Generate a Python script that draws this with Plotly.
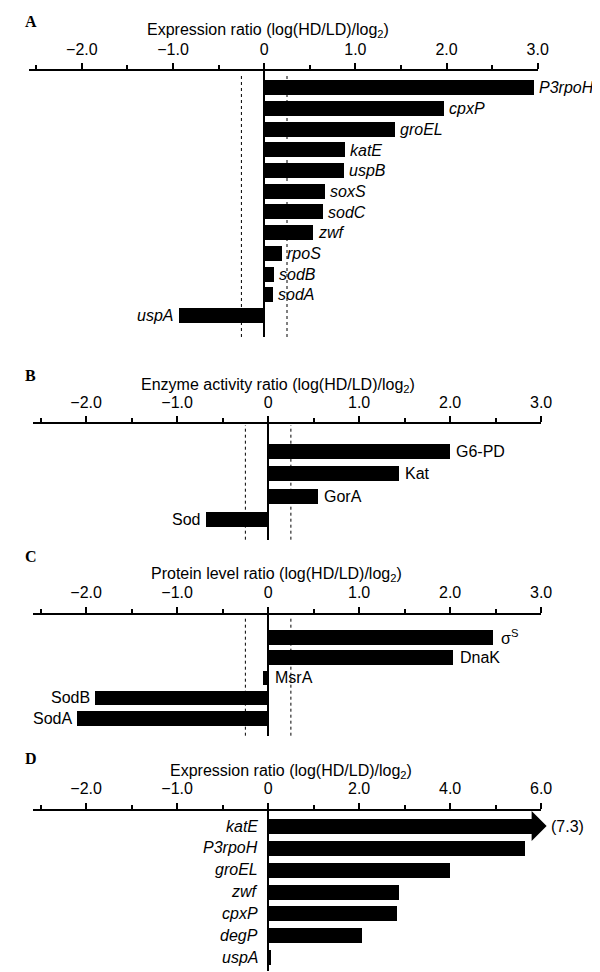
import plotly.graph_objects as go

W, H = 600, 972

# ---------------- data ----------------
A_genes = ["P3rpoH", "cpxP", "groEL", "katE", "uspB", "soxS", "sodC", "zwf",
           "rpoS", "sodB", "sodA", "uspA"]
A_values = [2.96, 1.97, 1.43, 0.89, 0.87, 0.67, 0.65, 0.54, 0.19, 0.11, 0.10, -0.94]

B_enzymes = ["G6-PD", "Kat", "GorA", "Sod"]
B_values = [2.0, 1.44, 0.55, -0.68]

C_proteins = ["σ<sup>S</sup>", "DnaK", "MsrA", "SodB", "SodA"]
C_values = [2.48, 2.03, -0.05, -1.90, -2.10]
C_label_side = ["right", "right", "right", "left", "left"]

D_genes = ["katE", "P3rpoH", "groEL", "zwf", "cpxP", "degP", "uspA"]
D_values = [7.3, 5.66, 4.0, 2.88, 2.85, 2.07, 0.08]

THRESHOLD = 0.25

TICKVALS = [-2, -1, 0, 1, 2, 3]
TICKTEXT_ABC = ["\u22122.0", "\u22121.0", "0", "1.0", "2.0", "3.0"]
TICKTEXT_D = ["\u22122.0", "\u22121.0", "0", "2.0", "4.0", "6.0"]
MINORVALS = [-2.5, -1.5, -0.5, 0.5, 1.5, 2.5]

TITLES = [
    "Expression ratio (log(HD/LD)/log<sub>2</sub>)",
    "Enzyme activity ratio (log(HD/LD)/log<sub>2</sub>)",
    "Protein level ratio (log(HD/LD)/log<sub>2</sub>)",
    "Expression ratio (log(HD/LD)/log<sub>2</sub>)",
]
LETTERS = ["A", "B", "C", "D"]

# arrow for clipped katE bar in panel D (true units)
ARROW_BASE = 5.84
ARROW_TIP = 6.12

XRANGE = [-2.58, 3.0]
FONT = "Liberation Sans"
FS = 16


def disp_d(v):
    """Panel D uses a broken scale: positive side compressed by 2."""
    return v if v < 0 else v / 2.0


# layout geometry in pixels: (x_left, x_right, top, bottom, first_center, spacing, bar_px)
GEOM = [
    (21.4, 539.6, 63.3, 329.0, 80.0, 20.7, 15.0),
    (25.8, 543.1, 416.0, 531.7, 443.0, 22.67, 15.0),
    (25.8, 543.1, 606.7, 727.7, 629.0, 20.25, 14.5),
    (25.8, 543.1, 802.7, 963.3, 818.0, 21.9, 15.0),
]
TITLE_POS = [(264.5, 22.5), (275.5, 378.0), (273.3, 566.0), (288.4, 763.0)]
LETTER_POS = [(23.5, 13.5), (23.0, 367.5), (23.5, 548.0), (23.0, 750.0)]

fig = go.Figure()
annotations = []
shapes = []

panel_names = [A_genes, B_enzymes, C_proteins, D_genes]
panel_vals = [A_values, B_values, C_values, D_values]

for p in range(4):
    names = panel_names[p]
    vals = panel_vals[p]
    xl, xr, top, bot, c0, sp, bpx = GEOM[p]
    sfx = "" if p == 0 else str(p + 1)
    xa = "x" + sfx
    ya = "y" + sfx
    idx = list(range(len(names)))

    if p == 3:
        xs = [disp_d(min(v, ARROW_BASE)) for v in vals]
    else:
        xs = list(vals)

    fig.add_trace(go.Bar(
        x=xs, y=idx, orientation="h", xaxis=xa, yaxis=ya,
        marker=dict(color="black", line=dict(width=0)),
        width=bpx / sp, showlegend=False, hoverinfo="skip",
    ))

    ytop = (top - c0) / sp
    ybot = (bot - c0) / sp
    fig.layout["xaxis" + sfx] = dict(
        domain=[xl / W, xr / W], anchor=ya, side="top", range=XRANGE,
        tickmode="array", tickvals=TICKVALS,
        ticktext=TICKTEXT_D if p == 3 else TICKTEXT_ABC,
        ticks="outside", ticklen=6, tickwidth=1.5, tickcolor="black",
        minor=dict(tickmode="array", tickvals=MINORVALS, ticks="outside",
                   ticklen=4, tickwidth=1.5, tickcolor="black"),
        showline=True, linecolor="black", linewidth=2,
        showgrid=False, zeroline=True, zerolinecolor="black", zerolinewidth=2,
        tickfont=dict(family=FONT, size=FS, color="black"),
        ticklabelstandoff=2, fixedrange=True,
    )
    fig.layout["yaxis" + sfx] = dict(
        domain=[1 - bot / H, 1 - top / H], anchor=xa, range=[ybot, ytop],
        visible=False, fixedrange=True,
    )

    # dotted threshold lines (A, B, C)
    if p < 3:
        for t in (-THRESHOLD, THRESHOLD):
            shapes.append(dict(type="line", xref=xa, yref=ya + " domain",
                               x0=t, x1=t, y0=0, y1=0.99,
                               line=dict(color="black", width=1, dash="dot")))

    # bar labels
    for i, (n, v) in enumerate(zip(names, vals)):
        if p == 0:
            side = "right" if v >= 0 else "left"
            ax_x = v
            txt = "<i>%s</i>" % n
            shift = 3 if side == "right" else -4
        elif p == 1:
            side = "right" if v >= 0 else "left"
            ax_x = v
            txt = n
            shift = 4 if side == "right" else -4
        elif p == 2:
            side = C_label_side[i]
            ax_x = max(v, 0) if side == "right" else v
            txt = n
            shift = 5 if side == "right" else -3
        else:
            side = "left"
            ax_x = 0
            txt = "<i>%s</i>" % n
            shift = -8
        annotations.append(dict(
            x=ax_x, y=i, xref=xa, yref=ya, text=txt, showarrow=False,
            xanchor="left" if side == "right" else "right", yanchor="middle",
            xshift=shift, font=dict(family=FONT, size=FS, color="black"),
        ))

    # panel title and letter
    tx, ty = TITLE_POS[p]
    annotations.append(dict(x=tx / W, y=1 - ty / H, xref="paper", yref="paper",
                            text=TITLES[p], showarrow=False, xanchor="center",
                            yanchor="middle",
                            font=dict(family=FONT, size=FS, color="black")))
    lx, ly = LETTER_POS[p]
    annotations.append(dict(x=lx / W, y=1 - ly / H, xref="paper", yref="paper",
                            text="<b>%s</b>" % LETTERS[p], showarrow=False,
                            xanchor="center", yanchor="middle",
                            font=dict(family="Liberation Serif", size=16, color="black")))

# arrow head on the clipped katE bar (panel D) and its true value
annotations.append(dict(
    x=disp_d(ARROW_TIP), y=0, ax=disp_d(ARROW_BASE) - 0.3, ay=0,
    xref="x4", yref="y4", axref="x4", ayref="y4", text="",
    showarrow=True, arrowhead=1, arrowsize=5, arrowwidth=1, arrowcolor="black",
))
# the value label sits just beyond the axis end; anchor it at the range end
xl, xr = GEOM[3][0], GEOM[3][1]
px_per_unit = (xr - xl) / (XRANGE[1] - XRANGE[0])
annotations.append(dict(
    x=XRANGE[1], y=0, xref="x4", yref="y4", text="(%.1f)" % D_values[0],
    showarrow=False, xanchor="left", yanchor="middle",
    xshift=(disp_d(ARROW_TIP) - XRANGE[1]) * px_per_unit + 2,
    font=dict(family=FONT, size=FS, color="black"),
))

fig.update_layout(
    width=W, height=H, margin=dict(l=0, r=0, t=0, b=0),
    paper_bgcolor="white", plot_bgcolor="white",
    annotations=annotations, shapes=shapes, bargap=0,
    font=dict(family=FONT, size=FS, color="black"),
)

fig.write_html("out.html")
